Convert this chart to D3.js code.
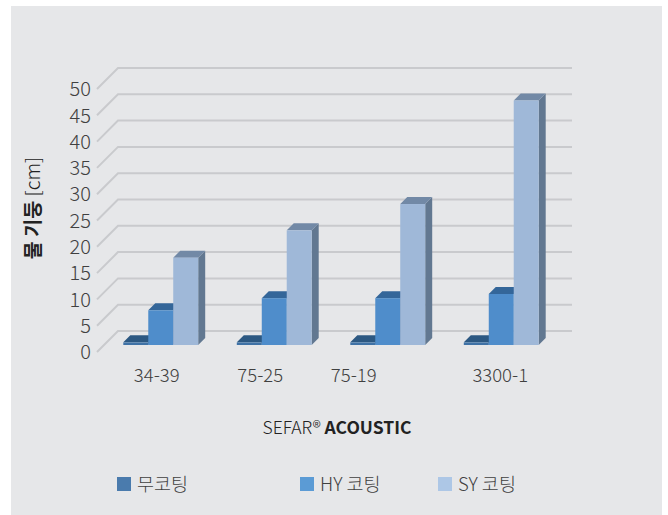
<!DOCTYPE html>
<html>
<head>
<meta charset="utf-8">
<script src="https://cdn.jsdelivr.net/npm/d3@7"></script>
<style>
  body { margin: 0; background: #ffffff; }
  text { font-family: "Noto Sans CJK KR", "Noto Sans", sans-serif; }
</style>
</head>
<body>
<svg id="chart" width="668" height="515"></svg>
<script>
// chart data
const categories = ["34-39", "75-25", "75-19", "3300-1"];
const seriesNames = ["무코팅", "HY 코팅", "SY 코팅"];
const noCoat = [0.5, 0.5, 0.5, 0.5];
const hyCoat = [6.6, 8.9, 8.9, 9.7];
const syCoat = [16.6, 21.8, 26.8, 46.5];
const yTicks = [0, 5, 10, 15, 20, 25, 30, 35, 40, 45, 50];

// colours per series: front, top, side, legend
const faceFront = ["#3f72a6", "#4f8dcb", "#9fb8d8"];
const faceTop = ["#2c5882", "#346699", "#7289a6"];
const faceSide = ["#2a4f75", "#3a679a", "#627891"];
const legendFill = ["#4a7bad", "#5b9bd5", "#adc7e6"];

// excel puts the category labels a bit off centre
const labelNudge = [-4, -14, -34, -1];

const svg = d3.select("#chart");

svg.append("rect")
    .attr("x", 11).attr("y", 6)
    .attr("width", 651).attr("height", 509)
    .attr("fill", "#e6e7e9");

const depth = 21;      // full depth of the floor
const barDepth = 7;    // depth of a bar
const barShift = 7;    // bar front sits this far behind the front plane

const y = d3.scaleLinear().domain([0, 50]).range([352, 89]);
const x0 = d3.scaleBand().domain(categories).range([97, 551])
    .paddingInner(0.34).paddingOuter(0.17);
const x1 = d3.scaleBand().domain(seriesNames).range([0, x0.bandwidth()]);

// gridlines: side diagonal plus back wall line
const grid = svg.append("g");
yTicks.forEach(t => {
    const yf = y(t);
    grid.append("path")
        .attr("d", d3.line()([[97, yf], [97 + depth, yf - depth], [551 + depth, yf - depth]]))
        .attr("fill", "none")
        .attr("stroke", "#c9cacd")
        .attr("stroke-width", 2);
});

// tick labels
svg.append("g").selectAll("text").data(yTicks).enter().append("text")
    .attr("x", 91)
    .attr("y", d => y(d))
    .attr("dy", "0.36em")
    .attr("text-anchor", "end")
    .attr("font-size", 20)
    .attr("font-weight", 300)
    .attr("fill", "#404040")
    .text(d => d);

// bars
const series = [noCoat, hyCoat, syCoat];
const bars = svg.append("g");
categories.forEach((cat, ci) => {
    series.forEach((vals, si) => {
        const w = x1.bandwidth();
        const xl = x0(cat) + x1(seriesNames[si]) + barShift;
        const yb = y(0) - barShift;
        const yt = y(vals[ci]) - barShift;
        const d = barDepth;
        bars.append("path")
            .attr("d", d3.line()([[xl + w, yt], [xl + w + d, yt - d], [xl + w + d, yb - d], [xl + w, yb]]))
            .attr("fill", faceSide[si]);
        bars.append("path")
            .attr("d", d3.line()([[xl, yt], [xl + w, yt], [xl + w + d, yt - d], [xl + d, yt - d]]))
            .attr("fill", faceTop[si]);
        bars.append("rect")
            .attr("x", xl).attr("y", yt)
            .attr("width", w).attr("height", yb - yt)
            .attr("fill", faceFront[si]);
    });
});

// category labels
svg.append("g").selectAll("text").data(categories).enter().append("text")
    .attr("x", (d, i) => x0(d) + x0.bandwidth() / 2 + barShift + labelNudge[i])
    .attr("y", 382)
    .attr("text-anchor", "middle")
    .attr("font-size", 18.5)
    .attr("font-weight", 300)
    .attr("fill", "#404040")
    .text(d => d);

// x axis title
const xt = svg.append("text")
    .attr("x", 337).attr("y", 434)
    .attr("text-anchor", "middle")
    .attr("font-size", 17.5)
    .attr("fill", "#222222");
xt.append("tspan").attr("font-weight", 300).text("SEFAR® ");
xt.append("tspan").attr("font-weight", "bold").text("ACOUSTIC");

// y axis title
const yt = svg.append("text")
    .attr("transform", "translate(40,208) rotate(-90)")
    .attr("text-anchor", "middle")
    .attr("font-size", 19.5)
    .attr("fill", "#222222");
yt.append("tspan").attr("font-weight", "bold").text("물 기둥 ");
yt.append("tspan").attr("font-weight", 300).text("[cm]");

// legend
const legendX = [117, 300, 438];
const lg = svg.append("g").selectAll("g").data(seriesNames).enter().append("g")
    .attr("transform", (d, i) => "translate(" + legendX[i] + ",477)");
lg.append("rect")
    .attr("width", 14).attr("height", 14)
    .attr("fill", (d, i) => legendFill[i]);
lg.append("text")
    .attr("x", 20).attr("y", 7)
    .attr("dy", "0.36em")
    .attr("font-size", 18.5)
    .attr("font-weight", 300)
    .attr("fill", "#404040")
    .text(d => d);
</script>
</body>
</html>
